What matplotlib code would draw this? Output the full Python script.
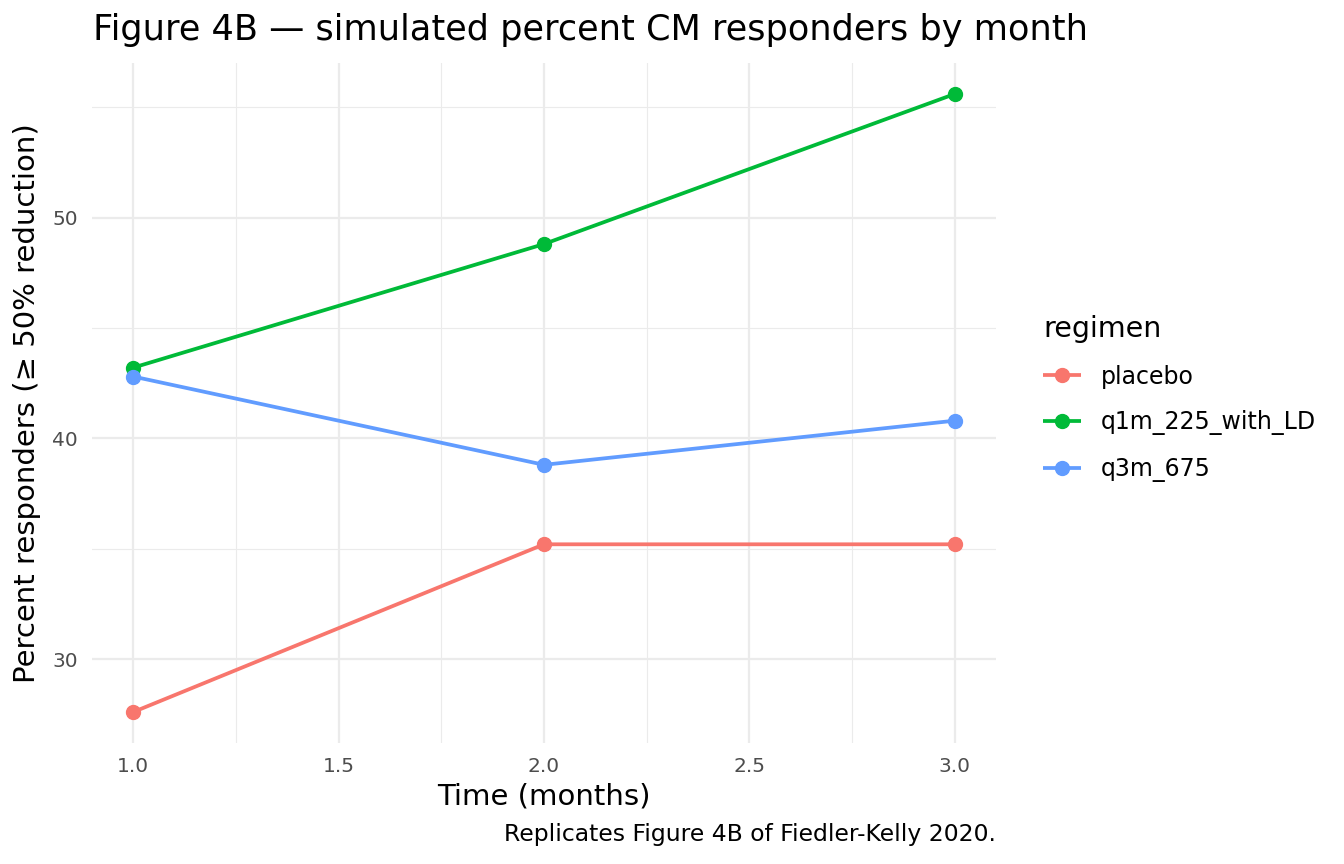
import numpy as np
from matplotlib import pyplot as plt

# values
months = [1.0, 2.0, 3.0]
regimens = ["placebo", "q1m_225_with_LD", "q3m_675"]
placebo = [27.6, 35.2, 35.2]
q1m_225_with_LD = [43.2, 48.8, 55.6]
q3m_675 = [42.8, 38.8, 40.8]
x_ticks = [1.0, 1.5, 2.0, 2.5, 3.0]
y_ticks = [30, 40, 50]

series = [placebo, q1m_225_with_LD, q3m_675]
colors = ["#F8766D", "#00BA38", "#619CFF"]

fig = plt.figure(figsize=(13.44, 8.64), dpi=100)
W, H = 1344, 864
ax = fig.add_axes([92 / W, 1 - 743 / H, (996 - 92) / W, (743 - 63) / H])

for name, vals, c in zip(regimens, series, colors):
    ax.plot(months, vals, color=c, lw=2.7, marker="o", ms=10, label=name,
            solid_capstyle="butt", zorder=3)

allv = np.concatenate(series)
lo, hi = allv.min(), allv.max()
pad = (hi - lo) * 0.05
ax.set_ylim(lo - pad, hi + pad)
ax.set_xlim(0.9, 3.1)

ax.set_xticks(x_ticks)
ax.set_xticklabels(["%.1f" % t for t in x_ticks])
ax.set_yticks(y_ticks)
ax.set_xticks([1.25, 1.75, 2.25, 2.75], minor=True)
ax.set_yticks([35, 45, 55], minor=True)
ax.grid(which="major", color="#EBEBEB", lw=1.6, zorder=0)
ax.grid(which="minor", color="#EBEBEB", lw=0.8, zorder=0)
ax.tick_params(which="both", length=0, labelsize=14.5, labelcolor="#4D4D4D", pad=10)
for s in ax.spines.values():
    s.set_visible(False)

ax.set_xlabel("Time (months)", fontsize=21)
ax.set_ylabel("Percent responders (\u2265 50% reduction)", fontsize=21)
ax.xaxis.set_label_coords(0.5, (743 - 797) / 680, transform=ax.transAxes)
ax.yaxis.set_label_coords((27 - 92) / 904, 0.5, transform=ax.transAxes)
ax.xaxis.label.set_va("center")
ax.yaxis.label.set_va("center")

fig.text(93 / W, 1 - 30 / H, "Figure 4B \u2014 simulated percent CM responders by month",
         fontsize=25.3, va="center", ha="left")
fig.text(996 / W, 1 - 835 / H, "Replicates Figure 4B of Fiedler-Kelly 2020.",
         fontsize=16.9, va="center", ha="right")

leg = fig.legend(loc="upper left", bbox_to_anchor=(1043 / W, 1 - 315 / H), frameon=False,
                 title="regimen", fontsize=17, title_fontsize=20.5,
                 handlelength=1.6, handletextpad=0.85, labelspacing=0.92,
                 borderpad=0, borderaxespad=0, alignment="left")

fig.savefig("out.png", dpi=100)
